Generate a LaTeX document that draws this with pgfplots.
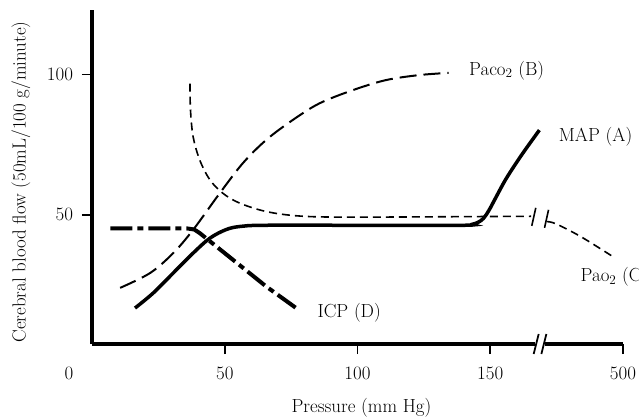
\documentclass[border=0pt]{standalone}
\usepackage{fontspec}
\usepackage{pgfplots}
\pgfplotsset{compat=1.18}

\begin{document}
\fontsize{19}{23}\selectfont
\begin{tikzpicture}
\begin{axis}[
    at={(0,0)}, anchor=south west,
    scale only axis,
    width=531bp, height=334bp,
    xmin=0, xmax=200, ymin=4, ymax=123,
    axis x line*=bottom, axis y line*=left,
    axis line style={line width=3.5bp},
    xtick={50,100,150,200},
    xticklabels={50,100,150,500},
    ytick={50,100},
    /pgf/number format/assume math mode=true,
    tick align=outside,
    major tick length=10bp,
    tick style={line width=1.6bp, black},
    xticklabel style={yshift=-6bp},
    yticklabel style={xshift=-2.5bp},
    xlabel={Pressure (mm Hg)},
    ylabel={Cerebral blood flow (50mL/100 g/minute)},
    every axis x label/.style={at={(axis cs:101.5,4)}, anchor=center, yshift=-64bp},
    every axis y label/.style={at={(axis description cs:-0.134,0.485)}, anchor=center, rotate=90},
    clip=false,
]

% MAP (A)
\addplot[black, line width=3.5bp, smooth, tension=0.55] coordinates {
    (16.2,16.8) (23.1,22.2) (30.6,29.3) (38.1,36.4) (44.4,41.7) (50.6,44.8)
    (56,45.9) (65,46.3) (100,46.3) (139.5,46.3) (143,46.6) (145.5,47.4)
    (147.5,48.8) (149.5,51.6) (152,56.0) (155.6,62.3) (159.5,68.1) (163.1,73.1) (168.5,80.2)};

% Paco2 (B)
\addplot[black, line width=2bp, dash pattern=on 17bp off 7bp, smooth, tension=0.55] coordinates {
    (10.6,24.0) (21.9,29.3) (30.6,36.4) (38.1,44.7) (48.1,57.7) (56.8,68.4)
    (65.6,76.7) (75.6,83.8) (85.6,89.7) (98.1,94.4) (110.6,98.0) (123.1,99.8) (134.3,100.6)};

% Pao2 (C), before and after the break
\addplot[black, line width=1.6bp, dash pattern=on 8bp off 5bp, smooth, tension=0.55] coordinates {
    (36.9,96.8) (37.1,87.3) (38.1,77.8) (40.6,69.5) (44.4,62.5) (49.3,57.7)
    (55.6,54.2) (65.6,51.2) (78.1,49.6) (96.9,49.2) (144.4,49.4) (165.4,49.5)};
\addplot[black, line width=1.6bp, dash pattern=on 8bp off 5bp, smooth, tension=0.55] coordinates {
    (171.4,47.6) (174.8,46.8) (184.2,42.2) (196.9,34.7)};

% ICP (D)
\addplot[black, line width=4bp, dash pattern=on 22bp off 5bp on 6bp off 5bp] coordinates {
    (6.9,45.2) (35.6,45.2) (38.5,44.8) (40.6,43.5) (53.1,34.0) (65.6,24.5) (76.9,16.8)};

% axis break
\fill[white] ([yshift=-4bp]axis cs:166.9,4) rectangle ([yshift=4bp]axis cs:170.6,4);
\draw[line width=1.8bp] ([xshift=-2.5bp,yshift=-10bp]axis cs:167.3,4) -- ([xshift=2.5bp,yshift=10bp]axis cs:167.3,4);
\draw[line width=1.8bp] ([xshift=-2.5bp,yshift=-10bp]axis cs:170.2,4) -- ([xshift=2.5bp,yshift=10bp]axis cs:170.2,4);
% curve break
\draw[line width=1.6bp] ([xshift=-2bp,yshift=-9bp]axis cs:166.4,49.3) -- ([xshift=2bp,yshift=9bp]axis cs:166.4,49.3);
\draw[line width=1.6bp] ([xshift=-2bp,yshift=-9bp]axis cs:171.2,48.6) -- ([xshift=2bp,yshift=9bp]axis cs:171.2,48.6);

\node[anchor=west] at (axis cs:139.6,101.5) {Paco\textsubscript{2} (B)};
\node[anchor=west] at (axis cs:173.4,77.7) {MAP (A)};
\node[anchor=west] at (axis cs:181.6,28) {Pao\textsubscript{2} (C)};
\node[anchor=west] at (axis cs:82.5,15.2) {ICP (D)};
\node at ([xshift=-23bp,yshift=-29bp]axis cs:0,4) {0};
\end{axis}
\pgfresetboundingbox
\useasboundingbox (-92bp,-75bp) rectangle (547bp,344bp);
\end{tikzpicture}
\end{document}
